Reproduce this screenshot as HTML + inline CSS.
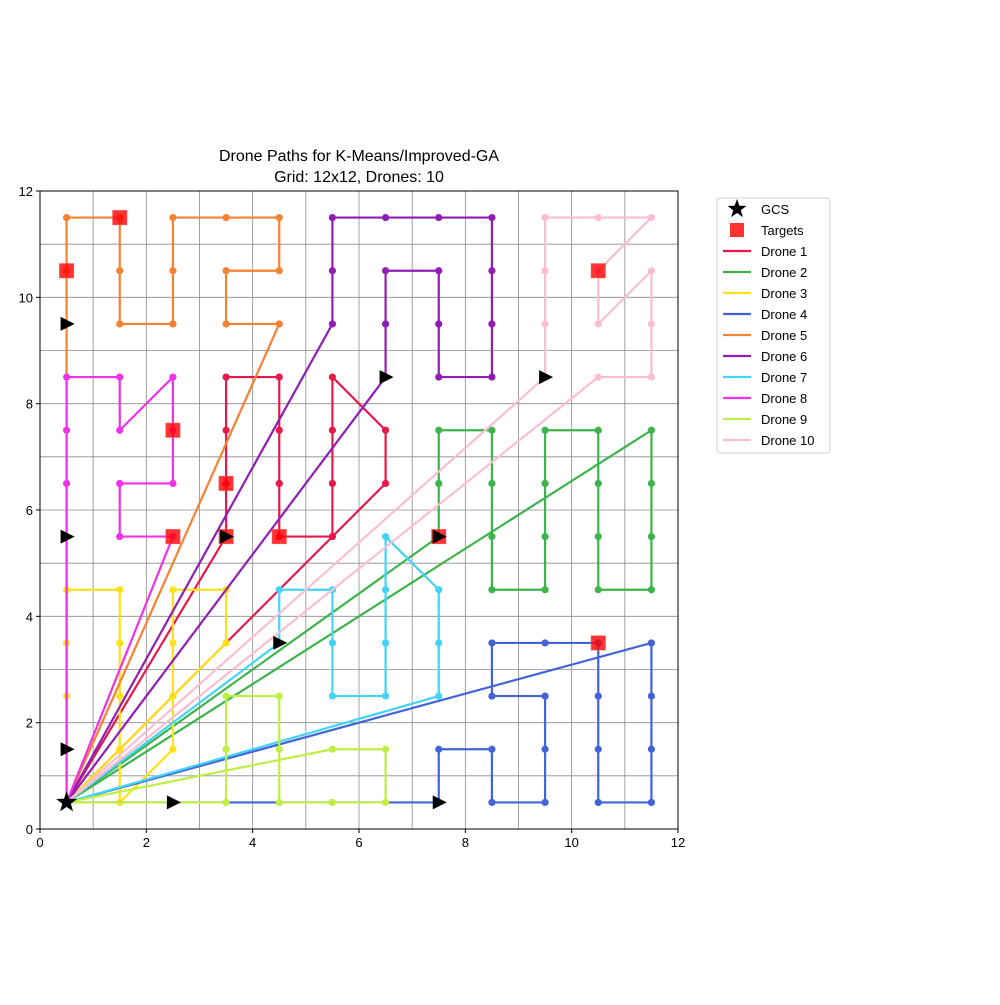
<!DOCTYPE html>
<html><head><meta charset="utf-8"><style>
body{margin:0;background:#fff;font-family:"Liberation Sans",sans-serif}
svg text{font-family:"Liberation Sans",sans-serif}
</style></head><body>
<svg id="chart" width="1000" height="1000" viewBox="0 0 1000 1000" xmlns="http://www.w3.org/2000/svg">
<rect width="1000" height="1000" fill="#fff"/>
<text x="359" y="161" text-anchor="middle" font-size="16">Drone Paths for K-Means/Improved-GA</text>
<text x="359" y="182" text-anchor="middle" font-size="16">Grid: 12x12, Drones: 10</text>
<g id="grid"></g>
<g id="plot"></g>
<g id="axes"></g>
<g id="legend"></g>
</svg>
<script>
const xTicks=[0,2,4,6,8,10,12];
const yTicks=[0,2,4,6,8,10,12];
const droneNames=["Drone 1","Drone 2","Drone 3","Drone 4","Drone 5","Drone 6","Drone 7","Drone 8","Drone 9","Drone 10"];
const droneColors=["#e6194b","#3cb44b","#ffe119","#4363d8","#f58231","#911eb4","#42d4f4","#f032e6","#bfef45","#fabed4"];
const gcs=[0.5,0.5];
const d1=[[6.5,6.5],[6.5,7.5],[5.5,8.5],[5.5,7.5],[5.5,6.5],[5.5,5.5],[4.5,5.5],[4.5,6.5],[4.5,7.5],[4.5,8.5],[3.5,8.5],[3.5,7.5],[3.5,6.5],[3.5,5.5]];
const d2=[[11.5,7.5],[11.5,6.5],[11.5,5.5],[11.5,4.5],[10.5,4.5],[10.5,5.5],[10.5,6.5],[10.5,7.5],[9.5,7.5],[9.5,6.5],[9.5,5.5],[9.5,4.5],[8.5,4.5],[8.5,5.5],[8.5,6.5],[8.5,7.5],[7.5,7.5],[7.5,6.5],[7.5,5.5]];
const d3=[[3.5,3.5],[3.5,4.5],[2.5,4.5],[2.5,3.5],[2.5,2.5],[2.5,1.5],[1.5,0.5],[1.5,1.5],[1.5,2.5],[1.5,3.5],[1.5,4.5],[0.5,4.5],[0.5,3.5],[0.5,2.5],[0.5,1.5]];
const d4=[[11.5,3.5],[11.5,2.5],[11.5,1.5],[11.5,0.5],[10.5,0.5],[10.5,1.5],[10.5,2.5],[10.5,3.5],[9.5,3.5],[8.5,3.5],[8.5,2.5],[9.5,2.5],[9.5,1.5],[9.5,0.5],[8.5,0.5],[8.5,1.5],[7.5,1.5],[7.5,0.5]];
const d5=[[4.5,9.5],[3.5,9.5],[3.5,10.5],[4.5,10.5],[4.5,11.5],[3.5,11.5],[2.5,11.5],[2.5,10.5],[2.5,9.5],[1.5,9.5],[1.5,10.5],[1.5,11.5],[0.5,11.5],[0.5,10.5],[0.5,9.5]];
const d6=[[5.5,9.5],[5.5,10.5],[5.5,11.5],[6.5,11.5],[7.5,11.5],[8.5,11.5],[8.5,10.5],[8.5,9.5],[8.5,8.5],[7.5,8.5],[7.5,9.5],[7.5,10.5],[6.5,10.5],[6.5,9.5],[6.5,8.5]];
const d7=[[7.5,2.5],[7.5,3.5],[7.5,4.5],[6.5,5.5],[6.5,4.5],[6.5,3.5],[6.5,2.5],[5.5,2.5],[5.5,3.5],[5.5,4.5],[4.5,4.5],[4.5,3.5]];
const d8=[[2.5,5.5],[1.5,5.5],[1.5,6.5],[2.5,6.5],[2.5,7.5],[2.5,8.5],[1.5,7.5],[1.5,8.5],[0.5,8.5],[0.5,7.5],[0.5,6.5],[0.5,5.5]];
const d9=[[5.5,1.5],[6.5,1.5],[6.5,0.5],[5.5,0.5],[4.5,0.5],[4.5,1.5],[4.5,2.5],[3.5,2.5],[3.5,1.5],[3.5,0.5],[2.5,0.5]];
const d10=[[10.5,8.5],[11.5,8.5],[11.5,9.5],[11.5,10.5],[10.5,9.5],[10.5,10.5],[11.5,11.5],[10.5,11.5],[9.5,11.5],[9.5,10.5],[9.5,9.5],[9.5,8.5]];
const paths=[d1,d2,d3,d4,d5,d6,d7,d8,d9,d10];
const targetX=[1.5,0.5,2.5,3.5,2.5,3.5,4.5,7.5,10.5,10.5];
const targetY=[11.5,10.5,7.5,6.5,5.5,5.5,5.5,5.5,10.5,3.5];

const X0=40,X1=678,Y0=829,Y1=191;
const sx=v=>X0+(X1-X0)*v/12;
const sy=v=>Y0-(Y0-Y1)*v/12;
const NS="http://www.w3.org/2000/svg";
function mk(tag,attrs,parent){const e=document.createElementNS(NS,tag);for(const k in attrs)e.setAttribute(k,attrs[k]);parent.appendChild(e);return e;}
const grid=document.getElementById('grid'),plot=document.getElementById('plot'),axes=document.getElementById('axes'),legend=document.getElementById('legend');
for(let i=1;i<12;i++){
  let l=mk('line',{x1:sx(i),x2:sx(i),y1:Y1,y2:Y0,stroke:'#8c8c8c','stroke-width':0.8},grid);
  
  
  let m=mk('line',{x1:X0,x2:X1,y1:sy(i),y2:sy(i),stroke:'#8c8c8c','stroke-width':0.8},grid);
  
  
}
paths.forEach((p,i)=>{
  const g=mk('g',{},plot);
  
  
  const pts=[gcs].concat(p).concat([gcs]);
  const pl=mk('polyline',{points:pts.map(q=>sx(q[0])+','+sy(q[1])).join(' '),fill:'none',stroke:droneColors[i],'stroke-width':2.2,'stroke-linejoin':'round'},g);
  
  
  p.slice(0,-1).forEach(q=>{
    const c=mk('circle',{cx:sx(q[0]),cy:sy(q[1]),r:3.6,fill:droneColors[i]},g);
    
    
  });
});
targetX.forEach((tx,i)=>{
  const s=mk('rect',{x:sx(tx)-7,y:sy(targetY[i])-7,width:14,height:14,fill:'rgba(255,0,0,0.8)',stroke:'rgba(255,60,60,0.8)','stroke-width':1},plot);
  
  
});
paths.forEach((p,i)=>{
  const q=p[p.length-1],x=sx(q[0]),y=sy(q[1]);
  const a=mk('polygon',{points:(x-6)+','+(y-7)+' '+(x+8)+','+y+' '+(x-6)+','+(y+7),fill:'#000'},plot);
  
  
});
function star(cx,cy,R,r){let s=[];for(let k=0;k<10;k++){const ang=-Math.PI/2+k*Math.PI/5;const rr=k%2?r:R;s.push((cx+rr*Math.cos(ang))+','+(cy+rr*Math.sin(ang)));}return s.join(' ');}
const st=mk('polygon',{points:star(sx(gcs[0]),sy(gcs[1]),11,4.5),fill:'#000'},plot);


const fr=mk('rect',{x:X0,y:Y1,width:X1-X0,height:Y0-Y1,fill:'none',stroke:'#000','stroke-width':1},axes);


xTicks.forEach(t=>{
  const l=mk('line',{x1:sx(t),x2:sx(t),y1:Y0,y2:Y0+4,stroke:'#000'},axes);
  
  
  const tx=mk('text',{x:sx(t),y:Y0+18,'text-anchor':'middle','font-size':13},axes);
  tx.textContent=t;
  
  
});
yTicks.forEach(t=>{
  const l=mk('line',{x1:X0-4,x2:X0,y1:sy(t),y2:sy(t),stroke:'#000'},axes);
  
  
  const tx=mk('text',{x:X0-7,y:sy(t)+5,'text-anchor':'end','font-size':13},axes);
  tx.textContent=t;
  
  
});
// legend
const lb=mk('rect',{x:717,y:198,width:113,height:255,rx:3,fill:'#fff',stroke:'#d0d0d0'},legend);


const names=['GCS','Targets'].concat(droneNames);
names.forEach((n,i)=>{
  const y=209+i*21;
  const g=mk('g',{},legend);
  
  
  if(i===0){mk('polygon',{points:star(737,y,10,4),fill:'#000'},g);}
  else if(i===1){mk('rect',{x:730,y:y-7,width:14,height:14,fill:'rgba(255,0,0,0.8)'},g);}
  else{mk('line',{x1:723,x2:751,y1:y,y2:y,stroke:droneColors[i-2],'stroke-width':2.2},g);}
  const t=mk('text',{x:761,y:y+5,'font-size':13},g);
  t.textContent=n;
});
</script>
</body></html>
